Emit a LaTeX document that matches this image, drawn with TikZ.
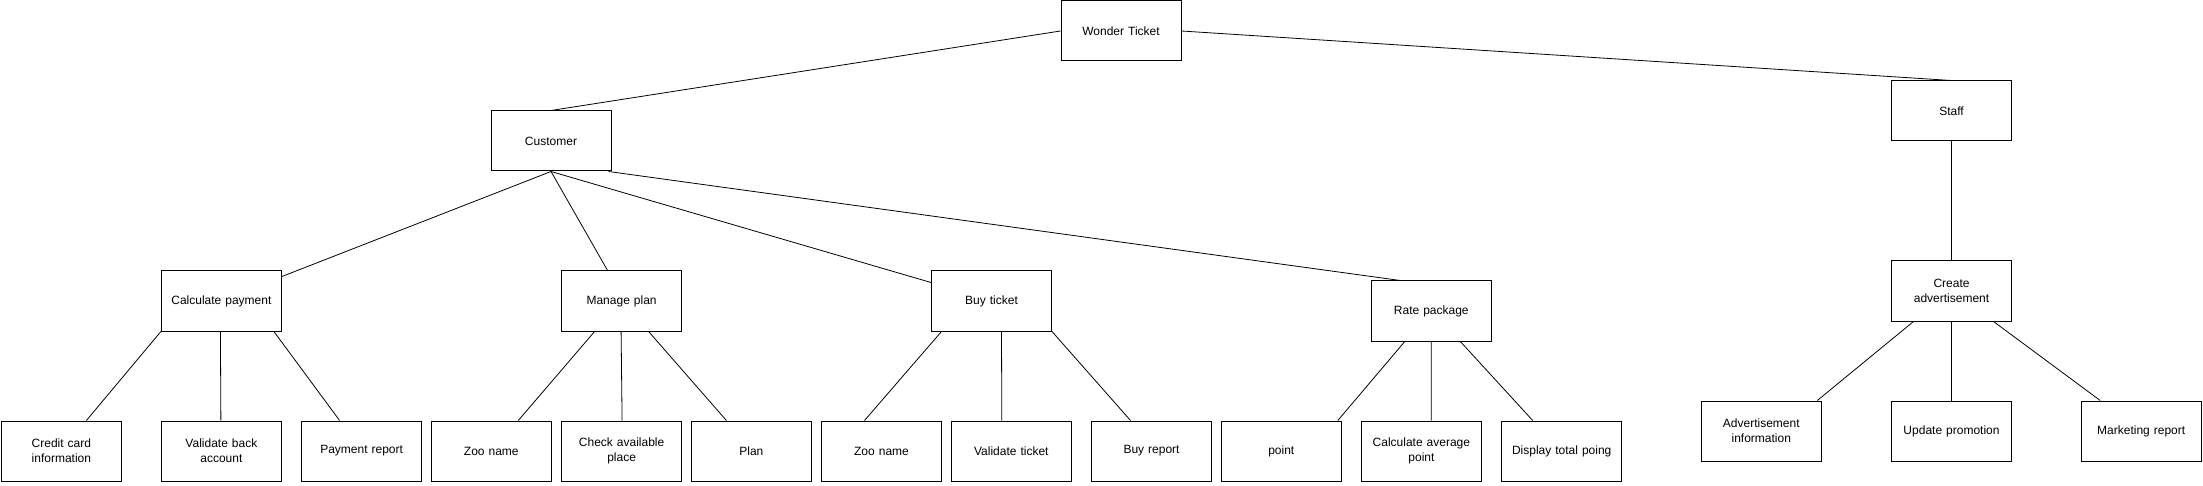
\documentclass[tikz,border=0pt]{standalone}
\usepackage{fontspec}
\setmainfont{Liberation Sans}
\begin{document}
\begin{tikzpicture}[x=1pt,y=-1pt,
  box/.style={draw=black,line width=1pt,minimum width=120pt,minimum height=60pt,inner sep=0pt,
    text width=112pt,align=center,font=\fontsize{12}{15}\selectfont},
  link/.style={draw=black,line width=0.8pt}]
\useasboundingbox (0,0) rectangle (2203,486);
% level 0
\node[box] (wt) at (1121,31) {Wonder Ticket};
% level 1
\node[box] (cust) at (551,141) {Customer};
\node[box] (staff) at (1951.5,111) {Staff};
% level 2
\node[box] (calc) at (221.4,301) {Calculate payment};
\node[box] (manage) at (621.6,301) {Manage plan};
\node[box] (buy) at (991.5,301) {Buy ticket};
\node[box] (rate) at (1431.3,311) {Rate package};
\node[box] (create) at (1951.5,291) {Create\\advertisement};
% leaves
\node[box] (credit) at (61.4,451) {Credit card\\information};
\node[box] (valback) at (221.4,451) {Validate back\\account};
\node[box] (payrep) at (361.6,451) {Payment report};
\node[box] (zoo1) at (491.3,451) {Zoo name};
\node[box] (check) at (621.6,451) {Check available\\place};
\node[box] (plan) at (751.4,451) {Plan};
\node[box] (zoo2) at (881.5,451) {Zoo name};
\node[box] (valtick) at (1011.3,451) {Validate ticket};
\node[box] (buyrep) at (1151.5,451) {Buy report};
\node[box] (point) at (1281.3,451) {point};
\node[box] (avg) at (1421.4,451) {Calculate average\\point};
\node[box] (disp) at (1561.7,451) {Display total poing};
\node[box] (adinfo) at (1761.3,431) {Advertisement\\information};
\node[box] (update) at (1951.5,431) {Update promotion};
\node[box] (market) at (2141.2,431) {Marketing report};
% connectors
\draw[link] (wt.west) -- (cust.north);
\draw[link] (wt.east) -- (staff.north);
\draw[link] (cust.south) -- ([yshift=-6pt]calc.north east);
\draw[link] (cust.south) -- ([xshift=-14pt]manage.north);
\draw[link] (cust.south) -- ([yshift=-12pt]buy.north west);
\draw[link] ([xshift=-3pt]cust.south east) -- ([xshift=-31pt]rate.north);
\draw[link] (calc.south west) -- ([xshift=25pt]credit.north);
\draw[link] ([xshift=-1pt]calc.south) -- ([xshift=-0.5pt]valback.north);
\draw[link] ([xshift=-8pt]calc.south east) -- ([xshift=-22pt]payrep.north);
\draw[link] ([xshift=-27pt]manage.south) -- ([xshift=27pt]zoo1.north);
\draw[link] ([xshift=-0.5pt]manage.south) -- ([xshift=0.5pt]check.north);
\draw[link] ([xshift=27pt]manage.south) -- ([xshift=-25pt]plan.north);
\draw[link] ([xshift=-50pt]buy.south) -- ([xshift=-17pt]zoo2.north);
\draw[link] ([xshift=10pt]buy.south) -- ([xshift=-9.5pt]valtick.north);
\draw[link] (buy.south east) -- ([xshift=-21pt]buyrep.north);
\draw[link] ([xshift=-26.5pt]rate.south) -- ([xshift=-4pt]point.north east);
\draw[link] (rate.south) -- ([xshift=9.9pt]avg.north);
\draw[link] ([xshift=29pt]rate.south) -- ([xshift=-29pt]disp.north);
\draw[link] (staff.south) -- (create.north);
\draw[link] ([xshift=-38pt]create.south) -- ([xshift=56pt]adinfo.north);
\draw[link] (create.south) -- (update.north);
\draw[link] ([xshift=42pt]create.south) -- ([xshift=-41pt]market.north);
\end{tikzpicture}
\end{document}
